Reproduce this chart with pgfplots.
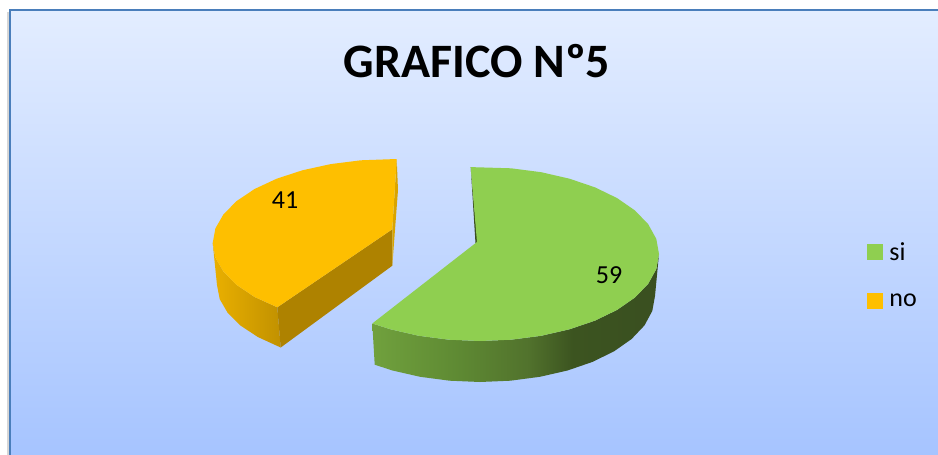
\documentclass[border=0pt]{standalone}
\usepackage{fontspec}
\setmainfont{Carlito}
\usepackage{pgfplots}
\pgfplotsset{compat=1.18}
\definecolor{frameblue}{HTML}{4A7EBB}
\definecolor{bgtop}{HTML}{E3EDFF}
\definecolor{bgbottom}{HTML}{A6C4FF}
\definecolor{pgreen}{HTML}{8FCF50}
\definecolor{pyellow}{HTML}{FEBF00}
\definecolor{yellowface}{HTML}{AE8200}
\definecolor{yellowedge}{HTML}{D9A400}
\definecolor{greenedge}{HTML}{3A5020}
\pgfdeclarehorizontalshading{greenwall}{100bp}{
  rgb(0bp)=(0.44,0.63,0.24);
  rgb(25bp)=(0.44,0.63,0.24);
  rgb(40bp)=(0.37,0.54,0.20);
  rgb(52bp)=(0.32,0.45,0.175);
  rgb(60bp)=(0.235,0.33,0.125);
  rgb(75bp)=(0.225,0.31,0.125);
  rgb(100bp)=(0.225,0.31,0.125)}
\begin{document}
\begin{tikzpicture}
\begin{axis}[
    scale only axis,
    width=938pt,
    height=455pt,
    xmin=0, xmax=938,
    ymin=0, ymax=455,
    y dir=reverse,
    axis lines=none,
    legend image code/.code={\fill[#1] (0pt,-7.5pt) rectangle (15pt,7.5pt); \path[draw=none,fill=none] (0pt,0pt) -- (20pt,0pt);},
    legend style={
        at={(axis cs:867,240)},
        anchor=north west,
        draw=none,
        fill=none,
        inner sep=0pt,
        row sep=28.5pt,
        font=\fontsize{26}{28}\selectfont,
        cells={anchor=west},
    },
]
% page, chart area
\addplot[forget plot,draw=none,fill=white] coordinates {
    (0,0) (938,0) (938,455) (0,455)
};
\addplot[forget plot,draw=none,top color=bgtop,bottom color=bgbottom] coordinates {
    (10,10) (938,10) (938,455) (10,455)
};
\addplot[forget plot,draw=black!16,line width=1.5pt] coordinates {(8,12) (8,455)};
\addplot[forget plot,draw=frameblue,line width=2.8pt] coordinates {(10,455) (10,10) (938,10)};

% no, outer wall
\addplot[forget plot,draw=none,left color=pyellow!92!black,right color=pyellow!76!black] coordinates {
    (212.7,243) (215.4,257.6) (223.5,271.7) (236.7,285) (254.6,297) (277.3,307.3)
    (280.7,347.5) (258,337.1) (240.4,325.5) (227.6,312.7) (219.7,299.1) (217,285)
};
% no, cut face
\addplot[forget plot,draw=none,fill=yellowface] coordinates {
    (277.3,307.3) (392.3,229.3) (392.3,265.7) (280.7,347.5)
};
\addplot[forget plot,draw=none,fill=yellowedge] coordinates {
    (396.7,159.3) (398,190) (392.3,265.7) (392.3,229.3)
};
% no, top
\addplot[forget plot,draw=none,fill=pyellow] coordinates {
    (396.7,159) (360.8,160.3) (330.7,164.1) (302.4,170.3) (276.7,178.7) (254.6,189)
    (236.7,201) (223.5,214.3) (215.4,228.4) (212.7,243) (215.4,257.6) (223.5,271.7)
    (236.7,285) (254.6,297) (277.3,307.3) (392.3,229.3)
};

% si, outer wall
\addplot[forget plot,draw=none,shading=greenwall] coordinates {
    (659,254) (656.3,269.1) (648.2,283.8) (635,297.5) (617.1,309.9) (595.1,320.6)
    (569.5,329.3) (541.2,335.8) (511.1,339.7) (480,341) (448.9,339.7) (418.8,335.8)
    (390.5,329.3) (372.3,323.5)
    (374.7,364.7) (392.5,370.5) (420.1,376.8) (449.6,380.7) (480,382) (510.4,380.7)
    (539.9,376.8) (567.5,370.5) (592.5,361.9) (614.1,351.3) (631.6,339) (644.5,325.4)
    (652.3,310.9) (655,296)
};
\addplot[forget plot,draw=none,fill=greenedge] coordinates {
    (470.7,167.1) (475.5,243.5) (477.5,242)
};
% si, top
\addplot[forget plot,draw=none,fill=pgreen] coordinates {
    (470.7,167.1) (511.1,168.3) (541.2,172.2) (569.5,178.7) (595.1,187.4) (617.1,198.1)
    (635,210.5) (648.2,224.2) (656.3,238.9) (659,254) (656.3,269.1) (648.2,283.8)
    (635,297.5) (617.1,309.9) (595.1,320.6) (569.5,329.3) (541.2,335.8) (511.1,339.7)
    (480,341) (448.9,339.7) (418.8,335.8) (390.5,329.3) (372.3,323.5) (477,242)
};

\addlegendimage{pgreen}
\addlegendentry{si}
\addlegendimage{pyellow}
\addlegendentry{no}

\node[anchor=base,font=\fontsize{48}{50}\selectfont\bfseries] at (axis cs:477,77) {GRAFICO Nº5};
\node[anchor=base,font=\fontsize{26}{28}\selectfont] at (axis cs:285,208) {41};
\node[anchor=base,font=\fontsize{26}{28}\selectfont] at (axis cs:609,283) {59};
\end{axis}
\end{tikzpicture}
\end{document}
